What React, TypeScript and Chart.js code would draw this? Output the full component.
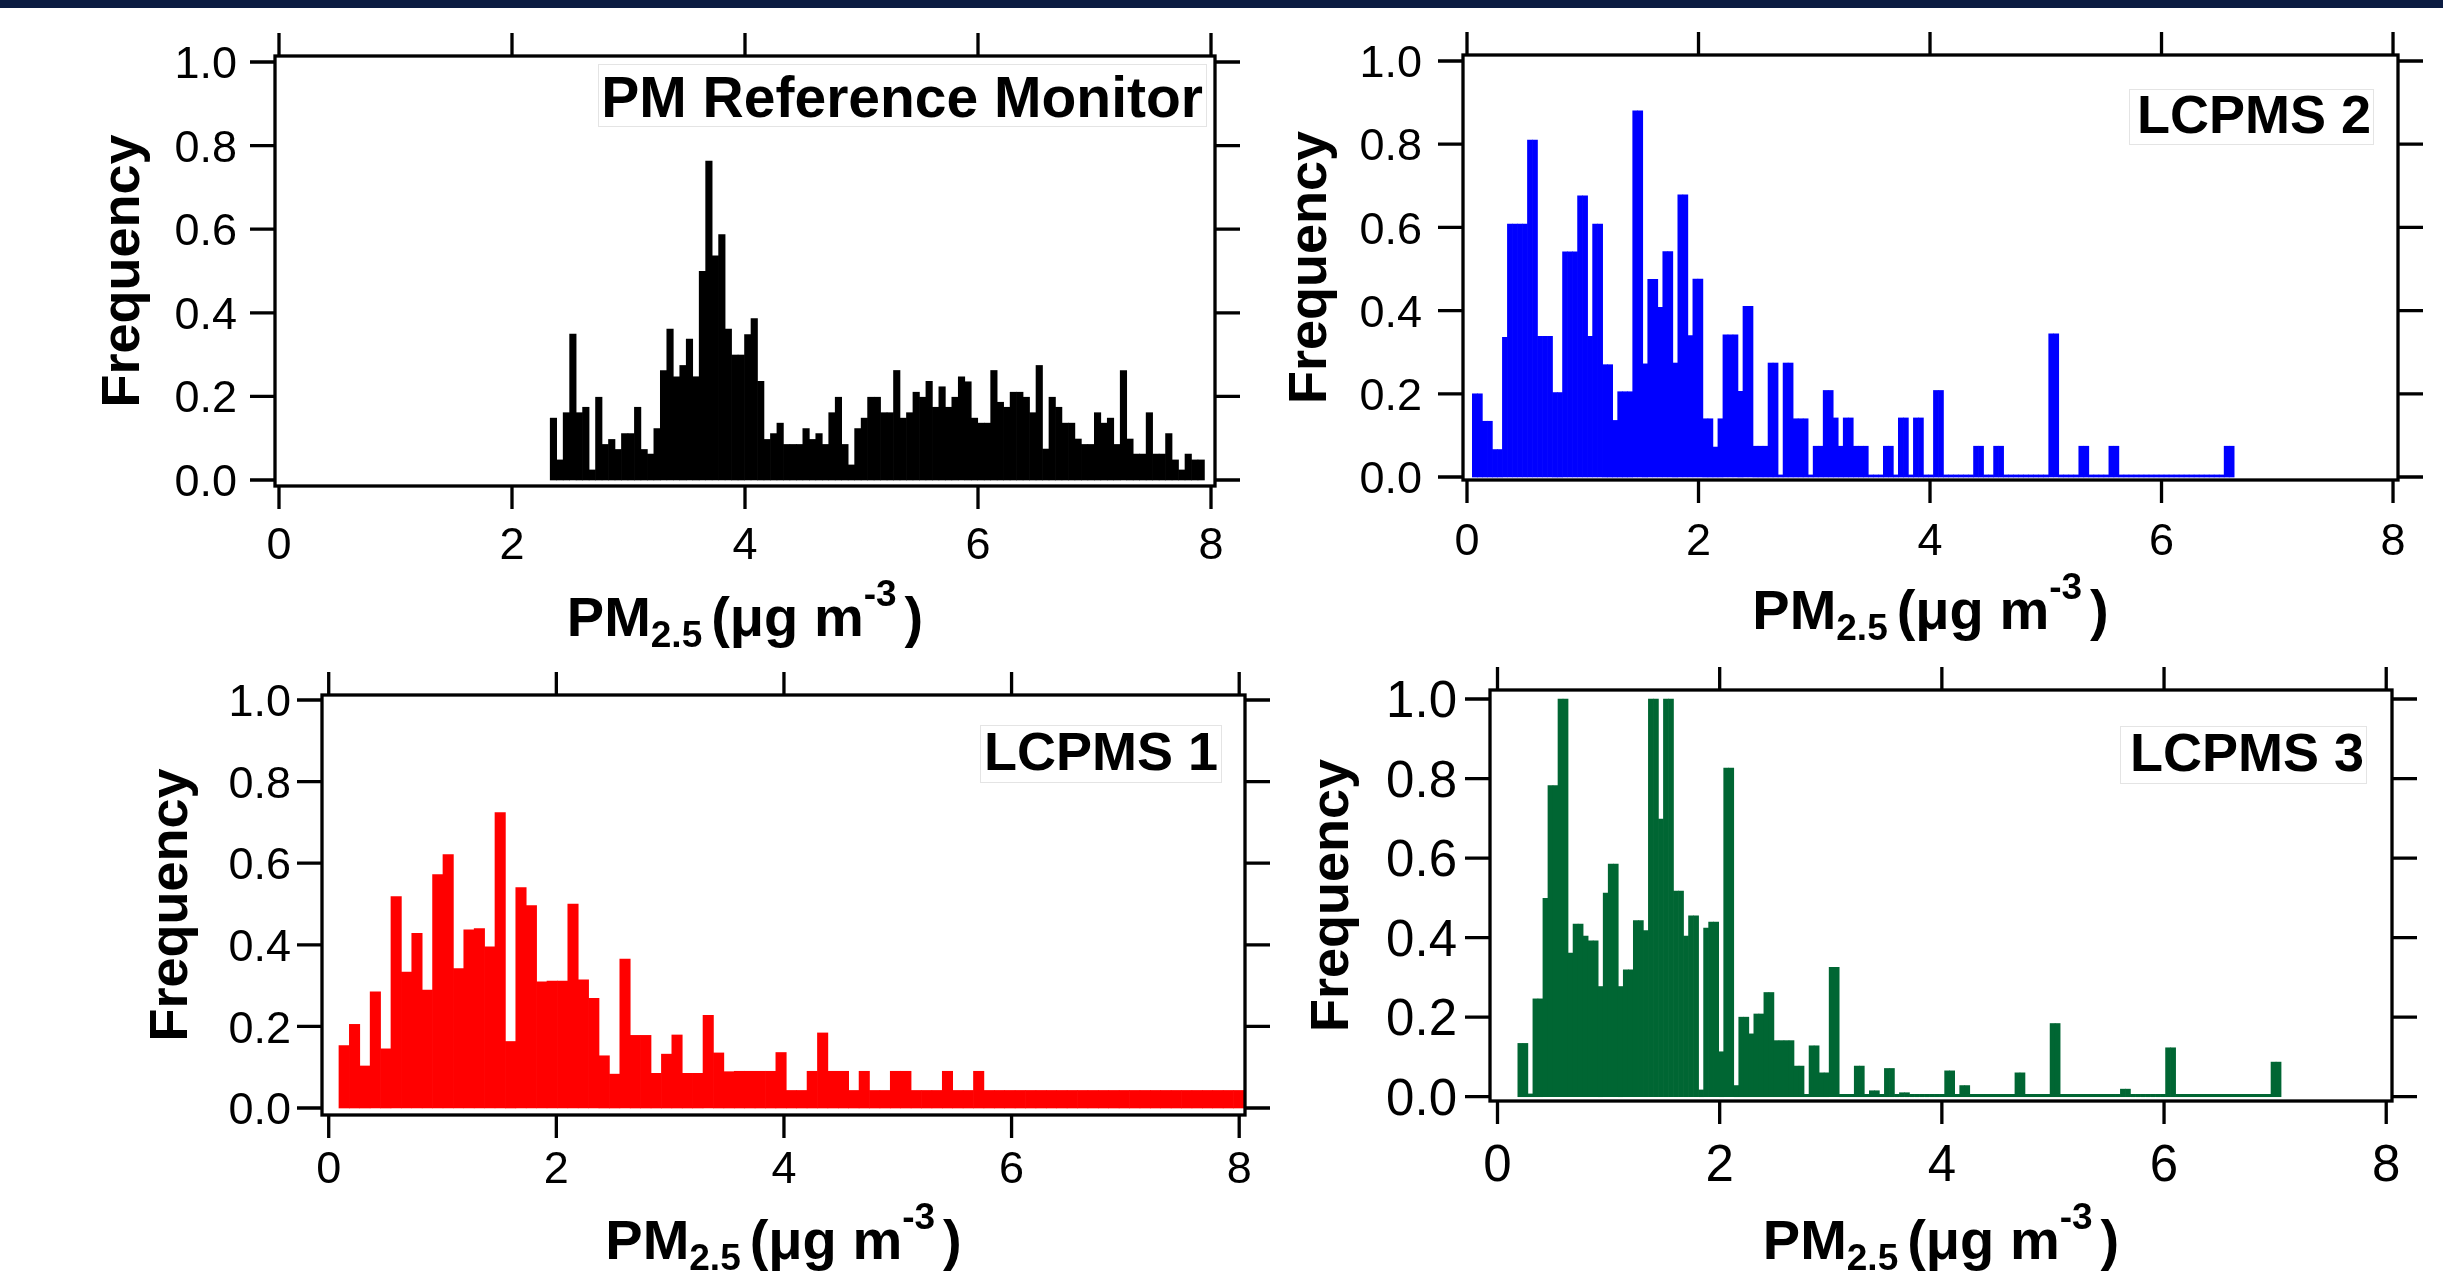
import React, { useEffect, useRef } from "react";
import { Chart, registerables } from "chart.js";

Chart.register(...registerables);

const PAGE_W = 2443;
const PAGE_H = 1274;

// ---------- data ----------
const xTickValues = [0, 2, 4, 6, 8];
const xTickLabels = ["0", "2", "4", "6", "8"];
const yTickValues = [0, 0.2, 0.4, 0.6, 0.8, 1.0];
const yTickLabels = ["0.0", "0.2", "0.4", "0.6", "0.8", "1.0"];

const panelTitles = ["PM Reference Monitor", "LCPMS 2", "LCPMS 1", "LCPMS 3"];
const yAxisTitle = "Frequency";
const xAxisTitleParts = [
  { text: "PM", kind: "main" },
  { text: "2.5", kind: "sub" },
  { text: "(μg m", kind: "main" },
  { text: "-3", kind: "sup" },
  { text: ")", kind: "main" },
];

// PM Reference Monitor (bin centres = start + (i + 0.5) * width)
const refBinStart = 2.328;
const refBinWidth = 0.0556;
const refFreq = [
  0.148, 0.048, 0.161, 0.349, 0.161, 0.174, 0.024, 0.198, 0.085, 0.097,
  0.073, 0.111, 0.111, 0.174, 0.073, 0.062, 0.123, 0.262, 0.361, 0.247,
  0.274, 0.337, 0.247, 0.499, 0.763, 0.536, 0.587, 0.361, 0.299, 0.299,
  0.348, 0.386, 0.236, 0.097, 0.111, 0.136, 0.085, 0.085, 0.085, 0.123,
  0.097, 0.111, 0.085, 0.161, 0.198, 0.085, 0.036, 0.123, 0.148, 0.198,
  0.198, 0.161, 0.161, 0.262, 0.148, 0.161, 0.21, 0.198, 0.236, 0.174,
  0.223, 0.174, 0.198, 0.247, 0.235, 0.148, 0.136, 0.136, 0.262, 0.186,
  0.174, 0.21, 0.21, 0.198, 0.161, 0.274, 0.074, 0.198, 0.174, 0.136,
  0.136, 0.098, 0.085, 0.085, 0.161, 0.136, 0.148, 0.085, 0.262, 0.098,
  0.062, 0.062, 0.161, 0.062, 0.062, 0.111, 0.048, 0.024, 0.062, 0.048,
  0.048,
];

// LCPMS 2
const lcpms2BinStart = 0.046;
const lcpms2BinWidth = 0.0433;
const lcpms2Freq = [
  0.2, 0.2, 0.134, 0.134, 0.066, 0.066, 0.336, 0.608, 0.608, 0.608,
  0.608, 0.81, 0.81, 0.338, 0.338, 0.338, 0.203, 0.203, 0.541, 0.541,
  0.541, 0.676, 0.676, 0.338, 0.608, 0.608, 0.27, 0.27, 0.136, 0.205,
  0.205, 0.205, 0.88, 0.88, 0.272, 0.475, 0.475, 0.408, 0.542, 0.542,
  0.274, 0.678, 0.678, 0.34, 0.476, 0.476, 0.14, 0.14, 0.072, 0.14,
  0.342, 0.342, 0.342, 0.206, 0.41, 0.41, 0.074, 0.074, 0.074, 0.274,
  0.274, 0.005, 0.274, 0.274, 0.14, 0.14, 0.14, 0.005, 0.074, 0.074,
  0.208, 0.208, 0.142, 0.074, 0.142, 0.142, 0.074, 0.074, 0.074, 0.005,
  0.005, 0.005, 0.074, 0.074, 0.005, 0.142, 0.142, 0.005, 0.142, 0.142,
  0.005, 0.005, 0.208, 0.208, 0.005, 0.005, 0.005, 0.005, 0.005, 0.005,
  0.074, 0.074, 0.005, 0.005, 0.074, 0.074, 0.005, 0.005, 0.005, 0.005,
  0.005, 0.005, 0.005, 0.005, 0.005, 0.344, 0.344, 0.005, 0.005, 0.005,
  0.005, 0.074, 0.074, 0.005, 0.005, 0.005, 0.005, 0.074, 0.074, 0.005,
  0.005, 0.005, 0.005, 0.005, 0.005, 0.005, 0.005, 0.005, 0.005, 0.005,
  0.005, 0.005, 0.005, 0.005, 0.005, 0.005, 0.005, 0.005, 0.005, 0.005,
  0.074, 0.074,
];

// LCPMS 1
const lcpms1BinStart = 0.09;
const lcpms1BinWidth = 0.0914;
const lcpms1Freq = [
  0.153, 0.205, 0.103, 0.285, 0.145, 0.518, 0.333, 0.428, 0.289, 0.572,
  0.621, 0.342, 0.437, 0.44, 0.395, 0.724, 0.163, 0.54, 0.496, 0.309,
  0.311, 0.311, 0.5, 0.314, 0.269, 0.128, 0.083, 0.365, 0.178, 0.178,
  0.085, 0.132, 0.179, 0.085, 0.085, 0.227, 0.135, 0.089, 0.09, 0.09,
  0.09, 0.09, 0.136, 0.043, 0.043, 0.09, 0.184, 0.09, 0.09, 0.043,
  0.09, 0.043, 0.043, 0.09, 0.09, 0.043, 0.043, 0.043, 0.09, 0.043,
  0.043, 0.09, 0.043, 0.043, 0.043, 0.043, 0.043, 0.043, 0.043, 0.043,
  0.043, 0.043, 0.043, 0.043, 0.043, 0.043, 0.043, 0.043, 0.043, 0.043,
  0.043, 0.043, 0.043, 0.043, 0.043, 0.043, 0.043, 0.043,
];

// LCPMS 3
const lcpms3BinStart = 0.183;
const lcpms3BinWidth = 0.0452;
const lcpms3Freq = [
  0.134, 0.134, 0.007, 0.246, 0.246, 0.499, 0.782, 0.782, 1.0, 1.0,
  0.361, 0.434, 0.434, 0.404, 0.392, 0.392, 0.277, 0.512, 0.585, 0.585,
  0.277, 0.319, 0.319, 0.443, 0.443, 0.418, 1.0, 1.0, 0.698, 1.0,
  1.0, 0.517, 0.517, 0.404, 0.455, 0.455, 0.017, 0.424, 0.439, 0.439,
  0.113, 0.826, 0.826, 0.028, 0.2, 0.2, 0.158, 0.208, 0.208, 0.262,
  0.262, 0.141, 0.141, 0.141, 0.141, 0.077, 0.077, 0.006, 0.128, 0.128,
  0.06, 0.06, 0.325, 0.325, 0.006, 0.006, 0.006, 0.077, 0.077, 0.006,
  0.015, 0.015, 0.006, 0.071, 0.071, 0.006, 0.01, 0.01, 0.006, 0.006,
  0.006, 0.006, 0.006, 0.006, 0.006, 0.065, 0.065, 0.006, 0.028, 0.028,
  0.006, 0.006, 0.006, 0.006, 0.006, 0.006, 0.006, 0.006, 0.006, 0.06,
  0.06, 0.006, 0.006, 0.006, 0.006, 0.006, 0.184, 0.184, 0.006, 0.006,
  0.006, 0.006, 0.006, 0.006, 0.006, 0.006, 0.006, 0.006, 0.006, 0.006,
  0.019, 0.019, 0.006, 0.006, 0.006, 0.006, 0.006, 0.006, 0.006, 0.123,
  0.123, 0.006, 0.006, 0.006, 0.006, 0.006, 0.006, 0.006, 0.006, 0.006,
  0.006, 0.006, 0.006, 0.006, 0.006, 0.006, 0.006, 0.006, 0.006, 0.006,
  0.087, 0.087,
];

// ---------- layout / style ----------
const FONT = '"Liberation Sans", Arial, Helvetica, sans-serif';

type PanelSpec = {
  title: string;
  start: number;
  width: number;
  freq: number[];
  color: string;
  area: { L: number; R: number; T: number; B: number };
  xMin: number;
  xMax: number;
  yMin: number;
  yMax: number;
  tickFont: number;
  yLabelRight: number;
  xLabelCenter: number;
  yTitleX: number;
  xTitleBaseline: number;
  box: { L: number; R: number; T: number; B: number };
  titleRight: number;
  titleBaseline: number;
  titleFont: number;
};

const panels: PanelSpec[] = [
  {
    title: panelTitles[0], start: refBinStart, width: refBinWidth, freq: refFreq, color: "#000000",
    area: { L: 275, R: 1215, T: 56, B: 486 },
    xMin: -0.0343, xMax: 8.0343, yMin: -0.0144, yMax: 1.0144,
    tickFont: 45, yLabelRight: 237, xLabelCenter: 543, yTitleX: 139, xTitleBaseline: 636,
    box: { L: 598, R: 1207, T: 64, B: 127 }, titleRight: 1203, titleBaseline: 117, titleFont: 57,
  },
  {
    title: panelTitles[1], start: lcpms2BinStart, width: lcpms2BinWidth, freq: lcpms2Freq, color: "#0000ff",
    area: { L: 1463, R: 2398, T: 55, B: 480 },
    xMin: -0.0346, xMax: 8.043, yMin: -0.0072, yMax: 1.0144,
    tickFont: 45, yLabelRight: 1422, xLabelCenter: 539, yTitleX: 1326, xTitleBaseline: 629,
    box: { L: 2129, R: 2374, T: 89, B: 145 }, titleRight: 2371, titleBaseline: 133, titleFont: 54,
  },
  {
    title: panelTitles[2], start: lcpms1BinStart, width: lcpms1BinWidth, freq: lcpms1Freq, color: "#ff0000",
    area: { L: 322, R: 1245, T: 695, B: 1115 },
    xMin: -0.059, xMax: 8.051, yMin: -0.01716, yMax: 1.0123,
    tickFont: 45, yLabelRight: 291, xLabelCenter: 1167, yTitleX: 187, xTitleBaseline: 1259,
    box: { L: 980, R: 1222, T: 725, B: 783 }, titleRight: 1218, titleBaseline: 770, titleFont: 54,
  },
  {
    title: panelTitles[3], start: lcpms3BinStart, width: lcpms3BinWidth, freq: lcpms3Freq, color: "#006633",
    area: { L: 1490, R: 2392, T: 690, B: 1101 },
    xMin: -0.0675, xMax: 8.052, yMin: -0.0108, yMax: 1.0226,
    tickFont: 51, yLabelRight: 1457, xLabelCenter: 1163, yTitleX: 1348, xTitleBaseline: 1259,
    box: { L: 2120, R: 2367, T: 726, B: 784 }, titleRight: 2364, titleBaseline: 771, titleFont: 54,
  },
];

const AXIS_LW = 3.3;
const TICK_X = 23;
const TICK_Y = 25;
const MAIN_TITLE_SIZE = 54;
const XTITLE_MAIN = 56;
const XTITLE_SMALL = 37;

function drawXTitle(ctx: CanvasRenderingContext2D, cx: number, baseline: number) {
  const fontFor = (kind: string) => `bold ${kind === "main" ? XTITLE_MAIN : XTITLE_SMALL}px ${FONT}`;
  // small gaps: after subscript, and before closing parenthesis
  const gapBefore = [0, 0, 9, 0, 8];
  let total = 0;
  const widths = xAxisTitleParts.map((p, i) => {
    ctx.font = fontFor(p.kind);
    const w = ctx.measureText(p.text).width;
    total += w + gapBefore[i];
    return w;
  });
  let x = cx - total / 2;
  ctx.textAlign = "left";
  ctx.textBaseline = "alphabetic";
  xAxisTitleParts.forEach((p, i) => {
    x += gapBefore[i];
    ctx.font = fontFor(p.kind);
    const dy = p.kind === "sub" ? 11 : p.kind === "sup" ? -30 : 0;
    ctx.fillText(p.text, x, baseline + dy);
    x += widths[i];
  });
}

function makeAxesPlugin(spec: PanelSpec) {
  return {
    id: "igorAxes",
    afterDraw(chart: any) {
      const ctx: CanvasRenderingContext2D = chart.ctx;
      const a = chart.chartArea;
      const xs = chart.scales.x;
      const ys = chart.scales.y;
      ctx.save();

      // inset title box
      const b = spec.box;
      ctx.fillStyle = "#ffffff";
      ctx.fillRect(b.L, b.T, b.R - b.L, b.B - b.T);
      ctx.strokeStyle = "#e4e4e4";
      ctx.lineWidth = 1;
      ctx.strokeRect(b.L + 0.5, b.T + 0.5, b.R - b.L - 1, b.B - b.T - 1);
      ctx.fillStyle = "#000000";
      ctx.font = `bold ${spec.titleFont}px ${FONT}`;
      ctx.textAlign = "right";
      ctx.textBaseline = "alphabetic";
      ctx.fillText(spec.title, spec.titleRight, spec.titleBaseline);

      // frame
      ctx.strokeStyle = "#000000";
      ctx.lineWidth = AXIS_LW;
      ctx.strokeRect(a.left, a.top, a.right - a.left, a.bottom - a.top);

      // ticks on all four sides, pointing outward
      ctx.beginPath();
      xTickValues.forEach((v) => {
        const px = xs.getPixelForValue(v);
        ctx.moveTo(px, a.bottom);
        ctx.lineTo(px, a.bottom + TICK_X);
        ctx.moveTo(px, a.top);
        ctx.lineTo(px, a.top - TICK_X);
      });
      yTickValues.forEach((v) => {
        const py = ys.getPixelForValue(v);
        ctx.moveTo(a.left, py);
        ctx.lineTo(a.left - TICK_Y, py);
        ctx.moveTo(a.right, py);
        ctx.lineTo(a.right + TICK_Y, py);
      });
      ctx.stroke();

      // tick labels
      ctx.fillStyle = "#000000";
      ctx.font = `${spec.tickFont}px ${FONT}`;
      ctx.textBaseline = "alphabetic";
      const digitHalf = spec.tickFont * 0.358;
      ctx.textAlign = "center";
      xTickValues.forEach((v, i) => {
        ctx.fillText(xTickLabels[i], xs.getPixelForValue(v), spec.xLabelCenter + digitHalf);
      });
      ctx.textAlign = "right";
      yTickValues.forEach((v, i) => {
        ctx.fillText(yTickLabels[i], spec.yLabelRight, ys.getPixelForValue(v) + digitHalf);
      });

      // y axis title
      ctx.save();
      ctx.translate(spec.yTitleX, (a.top + a.bottom) / 2);
      ctx.rotate(-Math.PI / 2);
      ctx.font = `bold ${MAIN_TITLE_SIZE}px ${FONT}`;
      ctx.textAlign = "center";
      ctx.textBaseline = "alphabetic";
      ctx.fillText(yAxisTitle, 0, 0);
      ctx.restore();

      // x axis title
      drawXTitle(ctx, (a.left + a.right) / 2, spec.xTitleBaseline);

      ctx.restore();
    },
  };
}

function Panel({ spec }: { spec: PanelSpec }) {
  const ref = useRef<HTMLCanvasElement | null>(null);
  useEffect(() => {
    if (!ref.current) return;
    const data = spec.freq.map((v, i) => ({ x: spec.start + (i + 0.5) * spec.width, y: v }));
    const chart = new Chart(ref.current, {
      type: "bar",
      data: {
        datasets: [
          {
            data: data as any,
            backgroundColor: spec.color,
            borderWidth: 0,
            barPercentage: 1,
            categoryPercentage: 1,
          },
        ],
      },
      options: {
        responsive: false,
        animation: false,
        events: [],
        devicePixelRatio: 1,
        layout: {
          padding: {
            left: spec.area.L,
            right: PAGE_W - spec.area.R,
            top: spec.area.T,
            bottom: PAGE_H - spec.area.B,
          },
        },
        plugins: {
          legend: { display: false },
          tooltip: { enabled: false },
          title: { display: false },
        },
        scales: {
          x: {
            type: "linear",
            display: false,
            offset: false,
            bounds: "data",
            min: spec.xMin,
            max: spec.xMax,
            ticks: { stepSize: 2, includeBounds: false },
          },
          y: {
            type: "linear",
            display: false,
            bounds: "data",
            min: spec.yMin,
            max: spec.yMax,
            ticks: { stepSize: 0.2, includeBounds: false },
          },
        },
      } as any,
      plugins: [makeAxesPlugin(spec)],
    });
    return () => chart.destroy();
  }, [spec]);
  return (
    <canvas
      ref={ref}
      width={PAGE_W}
      height={PAGE_H}
      style={{ position: "absolute", left: 0, top: 0, width: PAGE_W, height: PAGE_H }}
    />
  );
}

export default function App() {
  return (
    <div
      style={{
        position: "absolute",
        left: 0,
        top: 0,
        width: PAGE_W,
        height: PAGE_H,
        background: "#ffffff",
        overflow: "hidden",
      }}
    >
      <div style={{ position: "absolute", left: 0, top: 0, width: PAGE_W, height: 8, background: "#0b1c42" }} />
      {panels.map((p, i) => (
        <Panel key={i} spec={p} />
      ))}
    </div>
  );
}
